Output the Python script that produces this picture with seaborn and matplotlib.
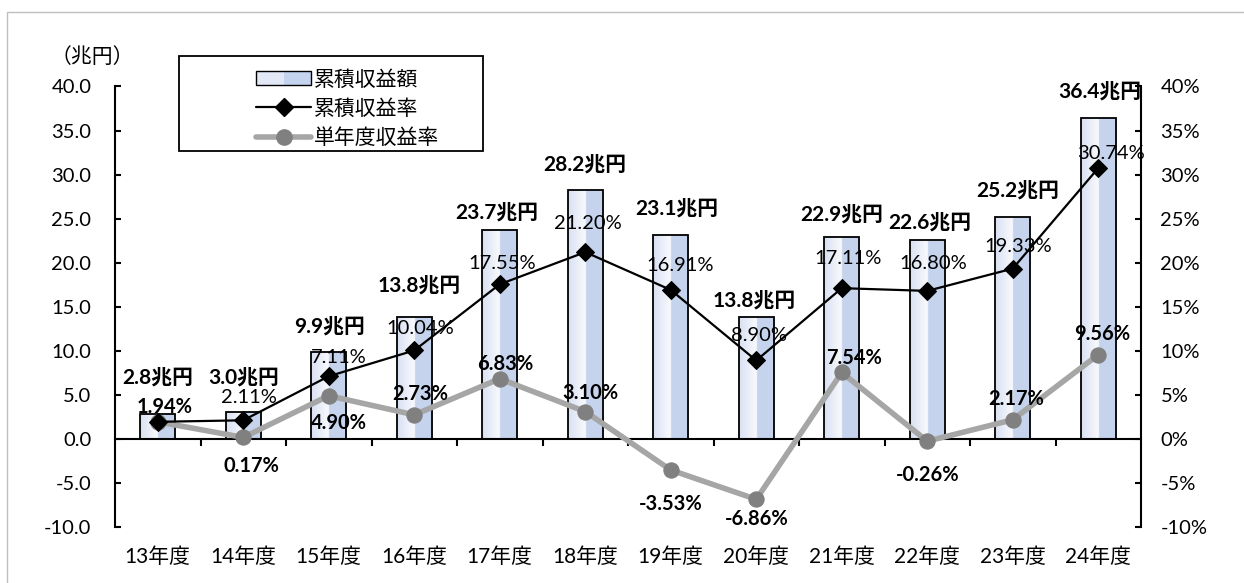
import numpy as np
import pandas as pd
import matplotlib
matplotlib.use('Agg')
import matplotlib.pyplot as plt
import seaborn as sns
from matplotlib.lines import Line2D
from matplotlib.patches import Rectangle, Patch

# data
years = ['13年度', '14年度', '15年度', '16年度', '17年度', '18年度',
         '19年度', '20年度', '21年度', '22年度', '23年度', '24年度']
cum_amount = [2.8, 3.0, 9.9, 13.8, 23.7, 28.2, 23.1, 13.8, 22.9, 22.6, 25.2, 36.4]
cum_rate = [1.94, 2.11, 7.11, 10.04, 17.55, 21.20, 16.91, 8.90, 17.11, 16.80, 19.33, 30.74]
year_rate = [1.94, 0.17, 4.90, 2.73, 6.83, 3.10, -3.53, -6.86, 7.54, -0.26, 2.17, 9.56]

# label nudges in pixels (dx, dy)
amount_off = [(0, 36), (0, 34), (1, 24), (5, 31), (-3, 17), (0, 25),
              (6, 26), (-2, 16), (0, 22), (3, 16), (5, 25), (2, 26)]
cum_off = [None, (6, 23), (10, 19), (6, 22), (2, 21), (3, 29),
           (9, 24), (3, 25), (6, 30), (6, 27), (5, 22), (13, 15)]
year_off = [(7, 15), (8, -29), (10, -27), (6, 21), (5, 15), (5, 19),
            (0, -34), (0, -20), (12, 14), (0, -34), (3, 21), (4, 21)]

df = pd.DataFrame({'year': years, 'amount': cum_amount, 'cum': cum_rate,
                   'single': year_rate, 'pos': np.arange(len(years))})

sns.set_theme(style='white')
plt.rcParams['font.family'] = ['Lato', 'Noto Sans CJK JP', 'DejaVu Sans']
plt.rcParams['text.color'] = 'black'
FS = 14.5
FS_JP = 15

fig = plt.figure(figsize=(12.44, 5.83), dpi=100)
ax = fig.add_axes([115 / 1244, 1 - 527 / 583, 1026 / 1244, 440.5 / 583])

# bars
sns.barplot(data=df, x='year', y='amount', ax=ax, width=0.41, color='#c5d4ee',
            edgecolor='black', linewidth=1.3, zorder=2)

# horizontal gradient like the Excel fill
t = np.linspace(0, 1, 64)
c0 = np.array([0.85, 0.88, 0.95])
c1 = np.array([0.97, 0.975, 0.99])
c2 = np.array([0.773, 0.831, 0.933])
frac = np.clip(t / 0.47, 0, 1)[:, None]
row = np.where((t < 0.5)[:, None], c0 + (c1 - c0) * frac, c2)
grad = row[None, :, :]
for p in list(ax.patches):
    x0, y0 = p.get_x(), p.get_y()
    w, h = p.get_width(), p.get_height()
    im = ax.imshow(grad, extent=[x0, x0 + w, y0, y0 + h], aspect='auto',
                   interpolation='bilinear', zorder=2.1)
    im.set_clip_path(p)
    p.set_facecolor('none')
    p.set_zorder(2.2)

ax.set_xlim(-0.5, len(years) - 0.5)
ax.set_ylim(-10, 40)
ax.set_yticks(np.arange(-10, 41, 5))
ax.set_yticklabels([f'{v:.1f}' for v in np.arange(-10, 41, 5)])
ax.set_xticks(df['pos'])
ax.set_xticklabels(years)
ax.set_xticks(df['pos'][:-1] + 0.5, minor=True)
ax.set_xlabel('')
ax.set_ylabel('')
for s in ['top', 'right']:
    ax.spines[s].set_visible(False)
ax.spines['bottom'].set_position(('data', 0))
for s in ['left', 'bottom']:
    ax.spines[s].set_color('black')
    ax.spines[s].set_linewidth(1.5)
ax.tick_params(axis='x', which='major', length=0, pad=78, labelsize=FS_JP, colors='black')
ax.tick_params(axis='x', which='minor', length=5, width=1.5, direction='out',
               color='black', bottom=True)
ax.tick_params(axis='y', direction='in', length=4, width=1.5, pad=17,
               labelsize=FS, colors='black', left=True)

# lines on the right axis
ax2 = ax.twinx()
sns.lineplot(data=df, x='pos', y='single', ax=ax2, color='#a6a6a6', linewidth=4,
             marker='o', markersize=11, markerfacecolor='#808080',
             markeredgecolor='#808080', zorder=3)
sns.lineplot(data=df, x='pos', y='cum', ax=ax2, color='black', linewidth=1.6,
             marker='D', markersize=9, markerfacecolor='black',
             markeredgecolor='black', zorder=4)
ax2.set_ylim(-10, 40)
ax2.set_yticks(np.arange(-10, 41, 5))
ax2.set_yticklabels([f'{v:.0f}%' for v in np.arange(-10, 41, 5)])
ax2.set_xlabel('')
ax2.set_ylabel('')
for s in ['top', 'left', 'bottom']:
    ax2.spines[s].set_visible(False)
ax2.spines['right'].set_color('black')
ax2.spines['right'].set_linewidth(1.5)
ax2.tick_params(axis='y', direction='in', length=4, width=1.5, pad=14,
                labelsize=FS, colors='black', right=True)
if ax2.get_legend():
    ax2.get_legend().remove()

# data labels
for i, v in enumerate(cum_amount):
    dx, dy = amount_off[i]
    ax2.annotate(f'{v:.1f}兆円', (i, v), xytext=(dx, dy), textcoords='offset pixels',
                 ha='center', va='center', fontsize=FS_JP, fontweight='bold', zorder=6)
for i, v in enumerate(cum_rate):
    if cum_off[i] is None:
        continue
    dx, dy = cum_off[i]
    ax2.annotate(f'{v:.2f}%', (i, v), xytext=(dx, dy), textcoords='offset pixels',
                 ha='center', va='center', fontsize=FS, zorder=6)
for i, v in enumerate(year_rate):
    dx, dy = year_off[i]
    ax2.annotate(f'{v:.2f}%', (i, v), xytext=(dx, dy), textcoords='offset pixels',
                 ha='center', va='center', fontsize=FS, fontweight='bold', zorder=6)

fig.text(92 / 1244, 1 - 57 / 583, '（兆円）', ha='center', va='center', fontsize=FS_JP)


# legend
class GradientHandler:
    def legend_artist(self, legend, orig_handle, fontsize, handlebox):
        x0, y0 = handlebox.xdescent, handlebox.ydescent
        w, h = handlebox.width, handlebox.height
        left = Rectangle((x0, y0), w * 0.5, h, facecolor='#e2e8f5', edgecolor='none',
                         transform=handlebox.get_transform())
        right = Rectangle((x0 + w * 0.5, y0), w * 0.5, h, facecolor='#c5d4ee',
                          edgecolor='none', transform=handlebox.get_transform())
        box = Rectangle((x0, y0), w, h, facecolor='none', edgecolor='black', lw=1,
                        transform=handlebox.get_transform())
        for a in (left, right, box):
            handlebox.add_artist(a)
        return box


bar_handle = Patch(facecolor='#c5d4ee', edgecolor='black')
handles = [
    bar_handle,
    Line2D([], [], color='black', lw=1.6, marker='D', markersize=9),
    Line2D([], [], color='#a6a6a6', lw=4, marker='o', markersize=11,
           markerfacecolor='#808080', markeredgecolor='#808080'),
]
labels = ['累積収益額', '累積収益率', '単年度収益率']
fig.legend(handles, labels, loc='upper left', bbox_to_anchor=(246 / 1244, 1 - 59 / 583),
           bbox_transform=fig.transFigure, frameon=False, fontsize=FS_JP,
           handlelength=2.6, handletextpad=0.15, labelspacing=0.45, borderpad=0,
           handler_map={bar_handle: GradientHandler()})
fig.add_artist(Rectangle((179 / 1244, 1 - 151 / 583), 304 / 1244, 95 / 583,
                         transform=fig.transFigure, fill=False, edgecolor='black', lw=1.3))

# outer chart border
fig.add_artist(Line2D([7 / 1244, 7 / 1244, 1], [0, 1 - 12 / 583, 1 - 12 / 583],
                      transform=fig.transFigure, color='#bfbfbf', lw=1))

fig.savefig('out.png', dpi=100)
